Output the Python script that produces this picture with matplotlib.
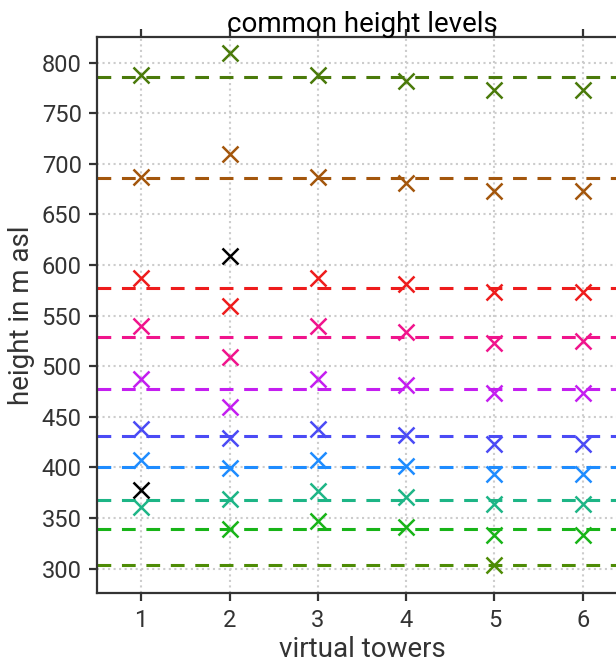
import numpy as np
import matplotlib
matplotlib.use("Agg")
import matplotlib.pyplot as plt

plt.rcParams['font.family'] = ['Roboto', 'DejaVu Sans']

towers = [1, 2, 3, 4, 5, 6]

# common height levels (dashed lines), bottom to top
levels = [303, 339, 367.5, 400, 430.5, 477, 528.5, 577, 686, 786]
level_colors = ['#4e8c06', '#18b418', '#1db586', '#1e8cff', '#4b4bf5',
                '#c41ef0', '#f0148c', '#ee1c1c', '#a3560c', '#4a7a0a']

# per-tower heights for each level (nan = no point)
nan = np.nan
h_303 = [nan, nan, nan, nan, 303.3, nan]
h_339 = [nan, 339.0, 347.0, 340.6, 333.0, 333.0]
h_367 = [361.0, 368.6, 377.0, 370.9, 363.4, 363.4]
h_400 = [407.2, 399.0, 407.2, 401.3, 393.4, 393.4]
h_430 = [437.6, 429.0, 437.6, 431.5, 423.5, 423.5]
h_477 = [487.1, 459.4, 487.1, 481.5, 473.3, 473.3]
h_528 = [539.6, 509.5, 539.6, 533.3, 523.0, 524.4]
h_577 = [587.0, 559.0, 587.0, 581.3, 573.0, 573.0]
h_686 = [687.1, 709.2, 687.0, 681.2, 673.0, 673.0]
h_786 = [787.7, 809.2, 787.7, 781.8, 773.0, 773.0]
heights = [h_303, h_339, h_367, h_400, h_430, h_477, h_528, h_577, h_686, h_786]

# unmatched points (black)
black_x = [1, 2]
black_y = [377.5, 609.2]

fig = plt.figure(figsize=(6.16, 6.64), dpi=100)
ax = fig.add_axes([97/616, 1 - 593.3/664, (627-97)/616, (593.3-37.3)/664])

for lev, col, hs in zip(levels, level_colors, heights):
    ax.axhline(lev, color=col, lw=2.2, ls=(0, (4.5, 3.5)), zorder=2)
    ax.plot(towers, hs, ls='none', marker='x', ms=11, mew=1.8, color=col, zorder=3)

ax.plot(black_x, black_y, ls='none', marker='x', ms=11, mew=1.8, color='black', zorder=3)

ax.set_xlim(0.5, 6.5)
ax.set_ylim(275.5, 825)
ax.set_xticks(towers)
ax.set_yticks(np.arange(300, 801, 50))
ax.grid(True, color='#cccccc', ls=':', lw=1.5, zorder=0)
ax.set_axisbelow(True)

for s in ax.spines.values():
    s.set_color('#333333')
    s.set_linewidth(1.6)
ax.tick_params(direction='out', length=6, width=1.6, color='#333333',
               labelsize=17, labelcolor='#333333', top=True, right=True, pad=5)

ax.set_xlabel('virtual towers', fontsize=20, color='#333333', labelpad=3)
ax.set_ylabel('height in m asl', fontsize=20, color='#333333', labelpad=5)
ax.set_title('common height levels', fontsize=20, color='black', pad=4)

fig.savefig('out.png', dpi=100)
